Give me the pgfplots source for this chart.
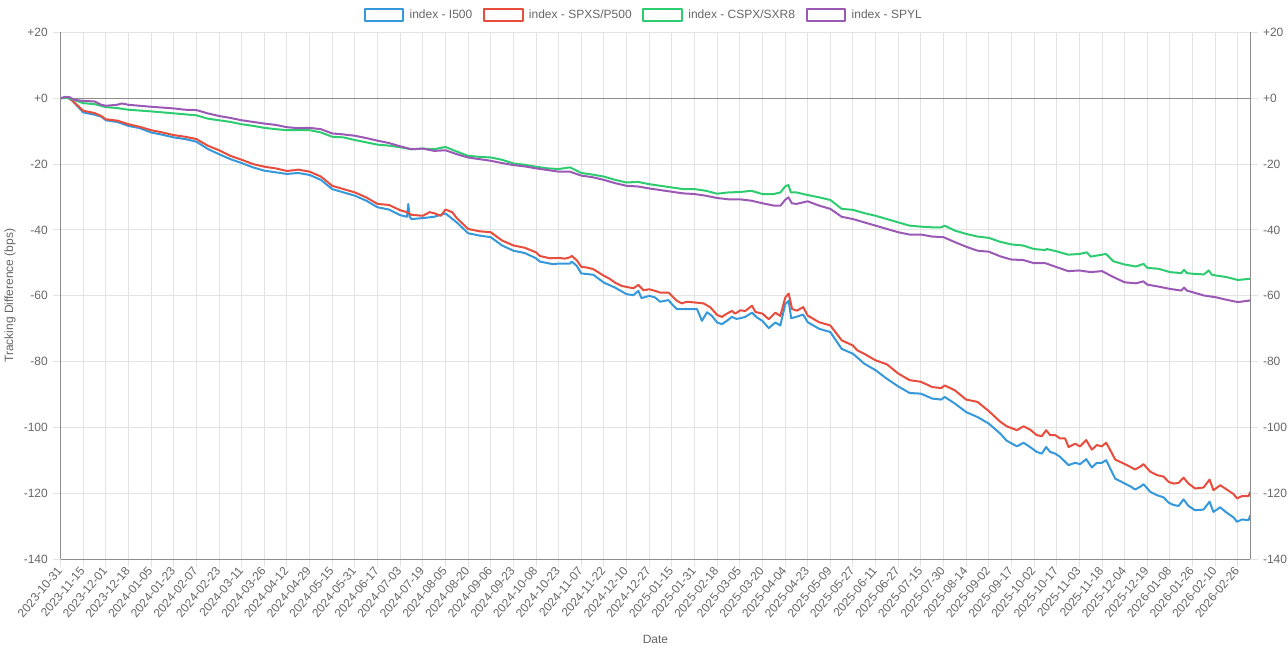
\documentclass[border=0pt]{standalone}
\usepackage{pgfplots}
\pgfplotsset{compat=1.18}
\usepackage{fontspec}
\setmainfont{Liberation Sans}
\definecolor{cBlue}{HTML}{3498DB}
\definecolor{cRed}{HTML}{E74C3C}
\definecolor{cGreen}{HTML}{2ECC71}
\definecolor{cPurple}{HTML}{9B59B6}
\definecolor{textgray}{HTML}{666666}
\definecolor{gridgray}{HTML}{E3E3E3}
\definecolor{axisgray}{HTML}{8C8C8C}
\begin{document}
\begin{tikzpicture}
\useasboundingbox (-45.4pt,-69.5pt) rectangle (920.6pt,419.5pt);
\pgfplotsset{
  common/.style={
    scale only axis, width=892.35pt, height=395.25pt,
    xmin=0, xmax=52.55, ymin=-140, ymax=20,
    ytick={-140,-120,-100,-80,-60,-40,-20,0,20},
    yticklabels={-140,-120,-100,-80,-60,-40,-20,+0,+20},
    tick align=outside, major tick length=6pt,
    major tick style={draw=gridgray, line width=0.75pt},
    axis line style={draw=axisgray, line width=0.75pt},
    tick label style={font=\fontsize{9}{11}\selectfont, text=textgray},
  }
}
\begin{axis}[common,
  axis x line*=bottom, axis y line*=left,
  xtick={0,...,52},
  xticklabels={2023-10-31,2023-11-15,2023-12-01,2023-12-18,2024-01-05,2024-01-23,2024-02-07,2024-02-23,2024-03-11,2024-03-26,2024-04-12,2024-04-29,2024-05-15,2024-05-31,2024-06-17,2024-07-03,2024-07-19,2024-08-05,2024-08-20,2024-09-06,2024-09-23,2024-10-08,2024-10-23,2024-11-07,2024-11-22,2024-12-10,2024-12-27,2025-01-15,2025-01-31,2025-02-18,2025-03-05,2025-03-20,2025-04-04,2025-04-23,2025-05-09,2025-05-27,2025-06-11,2025-06-27,2025-07-15,2025-07-30,2025-08-14,2025-09-02,2025-09-17,2025-10-02,2025-10-17,2025-11-03,2025-11-18,2025-12-04,2025-12-19,2026-01-08,2026-01-26,2026-02-10,2026-02-26},
  xticklabel style={rotate=50, anchor=east, inner sep=1pt},
  grid=major, grid style={draw=gridgray, line width=0.75pt},
  extra y ticks={0}, extra y tick labels={},
  extra y tick style={grid style={draw=axisgray, line width=0.75pt}, major tick style={draw=gridgray}},
  xlabel={Date}, ylabel={Tracking Difference (bps)},
  every axis x label/.style={at={(axis description cs:0.5,-0.152)}, anchor=center, font=\fontsize{9}{11}\selectfont, text=textgray},
  every axis y label/.style={at={(axis description cs:-0.0424,0.5)}, rotate=90, anchor=center, font=\fontsize{9}{11}\selectfont, text=textgray},
  legend style={at={(axis description cs:0.4904,1.033)}, anchor=center, draw=none, fill=none,
    legend columns=4, font=\fontsize{9}{11}\selectfont, text=textgray,
    /tikz/every odd column/.append style={column sep=2pt},
    /tikz/every even column/.append style={column sep=6pt}},
  legend image code/.code={\draw[#1, line width=1.5pt, fill=white] (0pt,-4.5pt) rectangle (29pt,4.5pt);},
  every axis plot/.append style={line width=1.5pt, line join=round, mark=none},
]
\addplot[cBlue] coordinates {(0,0) (0.3,0.2) (0.5,-0.6) (0.8,-2.8) (1,-4.3) (1.5,-5.0) (1.8,-5.6) (2,-6.7) (2.5,-7.2) (3,-8.4) (3.5,-9.1) (4,-10.4) (4.5,-11.1) (5,-11.9) (5.5,-12.4) (6,-13.2) (6.5,-15.4) (7,-17.0) (7.5,-18.5) (8,-19.7) (8.5,-21.0) (9,-22.0) (9.5,-22.5) (10,-23.0) (10.5,-22.7) (11,-23.3) (11.5,-24.8) (12,-27.6) (12.5,-28.6) (13,-29.6) (13.5,-31.1) (14,-33.1) (14.5,-33.8) (15,-35.5) (15.3,-36.0) (15.36,-32.1) (15.42,-36.0) (15.5,-36.7) (16,-36.4) (16.5,-36.0) (17,-35.0) (17.5,-37.7) (18,-41.0) (18.5,-41.7) (19,-42.2) (19.5,-44.7) (20,-46.3) (20.5,-47.0) (21,-48.6) (21.17,-49.6) (21.75,-50.4) (22,-50.2) (22.5,-50.2) (22.58,-49.6) (22.8,-50.9) (23,-53.2) (23.53,-53.6) (24,-56.0) (24.49,-57.5) (25,-59.5) (25.3,-59.8) (25.52,-58.5) (25.66,-60.7) (26,-60.0) (26.26,-60.5) (26.48,-61.8) (26.85,-61.3) (27,-62.5) (27.22,-64.0) (27.66,-64.0) (28.11,-64.0) (28.33,-67.6) (28.55,-65.0) (28.77,-66.1) (29,-68.1) (29.21,-68.6) (29.43,-67.6) (29.65,-66.4) (29.85,-67.0) (30.02,-66.8) (30.24,-66.4) (30.54,-65.1) (30.76,-66.6) (31,-67.6) (31.28,-69.8) (31.57,-68.1) (31.79,-69.0) (32.01,-62.5) (32.16,-61.5) (32.27,-66.8) (32.53,-66.3) (32.8,-65.7) (33,-68.0) (33.5,-70.0) (34,-71.0) (34.5,-76.1) (35,-77.6) (35.5,-80.6) (36,-82.6) (36.5,-85.2) (37,-87.5) (37.5,-89.5) (38,-89.7) (38.5,-91.2) (38.9,-91.5) (39.05,-90.7) (39.5,-92.7) (40,-95.3) (40.5,-96.8) (41,-98.8) (41.5,-101.8) (41.79,-104.0) (42.24,-105.7) (42.53,-104.6) (42.82,-105.9) (43.12,-107.4) (43.34,-107.9) (43.53,-105.9) (43.71,-107.4) (43.93,-107.9) (44.15,-108.9) (44.52,-111.4) (44.81,-110.7) (45.03,-111.1) (45.3,-109.6) (45.55,-112.1) (45.77,-110.7) (45.99,-110.7) (46.18,-109.9) (46.36,-112.4) (46.58,-115.5) (46.95,-116.8) (47.24,-117.8) (47.46,-118.8) (47.68,-118.0) (47.83,-117.2) (48.13,-119.5) (48.42,-120.5) (48.72,-121.2) (48.94,-122.8) (49.16,-123.5) (49.38,-123.8) (49.6,-121.8) (49.82,-123.8) (50.11,-125.1) (50.48,-124.9) (50.75,-122.5) (50.92,-125.6) (51.22,-124.2) (51.44,-125.5) (51.81,-127.3) (51.96,-128.6) (52.18,-127.9) (52.47,-128.1) (52.55,-126.6)};
\addlegendentry{index - I500}
\addplot[cRed] coordinates {(0,0) (0.3,0.2) (0.5,-0.6) (0.8,-2.5) (1,-3.8) (1.5,-4.5) (1.8,-5.4) (2,-6.4) (2.5,-6.8) (3,-7.9) (3.5,-8.7) (4,-9.7) (4.5,-10.4) (5,-11.2) (5.5,-11.7) (6,-12.4) (6.5,-14.4) (7,-15.8) (7.5,-17.5) (8,-18.7) (8.5,-20.0) (9,-20.8) (9.5,-21.3) (10,-22.1) (10.5,-21.7) (11,-22.3) (11.5,-23.8) (12,-26.6) (12.5,-27.6) (13,-28.6) (13.5,-30.1) (14,-32.1) (14.5,-32.4) (15,-34.0) (15.3,-34.6) (15.5,-35.4) (16,-35.7) (16.3,-34.6) (16.5,-34.9) (16.8,-35.7) (17,-33.8) (17.3,-34.6) (17.5,-36.4) (18,-39.7) (18.5,-40.4) (19,-40.7) (19.5,-43.2) (20,-44.7) (20.5,-45.4) (21,-46.8) (21.17,-47.9) (21.62,-48.6) (22,-48.5) (22.28,-48.7) (22.5,-48.3) (22.58,-47.9) (22.8,-49.2) (23,-51.2) (23.24,-51.4) (23.53,-51.9) (23.83,-53.2) (24,-53.9) (24.27,-54.9) (24.49,-56.0) (24.79,-57.0) (25,-57.3) (25.3,-57.7) (25.52,-56.7) (25.75,-58.3) (26,-58.0) (26.26,-58.5) (26.48,-59.0) (26.85,-59.0) (27,-60.0) (27.22,-61.5) (27.44,-62.3) (27.66,-61.8) (28,-62.0) (28.4,-62.3) (28.7,-63.5) (29,-65.8) (29.21,-66.4) (29.43,-65.4) (29.65,-64.6) (29.8,-65.4) (30.02,-64.4) (30.24,-64.6) (30.54,-63.0) (30.69,-64.9) (31,-65.4) (31.28,-67.1) (31.57,-65.1) (31.79,-66.1) (32.01,-60.5) (32.16,-59.3) (32.31,-64.0) (32.53,-64.5) (32.8,-63.4) (33,-66.0) (33.5,-68.0) (34,-69.0) (34.5,-73.5) (35,-75.1) (35.2,-76.6) (35.5,-77.6) (36,-79.6) (36.5,-80.8) (37,-83.6) (37.5,-85.6) (38,-86.1) (38.5,-87.7) (38.9,-88.0) (39.05,-87.2) (39.5,-88.7) (40,-91.5) (40.5,-92.2) (41,-95.0) (41.5,-98.2) (41.79,-99.6) (42.24,-100.8) (42.53,-99.6) (42.82,-100.6) (43.12,-102.3) (43.34,-102.6) (43.53,-100.8) (43.71,-102.3) (43.93,-102.3) (44.15,-103.3) (44.37,-103.3) (44.52,-105.9) (44.81,-104.9) (45.03,-105.7) (45.3,-103.8) (45.55,-106.7) (45.77,-105.3) (45.99,-105.7) (46.18,-104.6) (46.36,-106.8) (46.58,-109.7) (46.95,-110.9) (47.24,-111.9) (47.46,-112.7) (47.68,-111.9) (47.83,-111.1) (48.13,-113.4) (48.42,-114.4) (48.72,-114.9) (48.94,-116.5) (49.16,-117.0) (49.38,-116.8) (49.6,-115.2) (49.82,-117.0) (50.11,-118.5) (50.48,-118.2) (50.75,-115.8) (50.92,-119.0) (51.22,-117.5) (51.44,-118.5) (51.81,-120.2) (51.96,-121.5) (52.18,-120.8) (52.47,-120.8) (52.55,-119.5)};
\addlegendentry{index - SPXS/P500}
\addplot[cGreen] coordinates {(0,0) (0.3,0.1) (0.5,-0.3) (1,-1.5) (1.5,-1.8) (2,-2.7) (2.5,-3.0) (3,-3.5) (4,-4.0) (5,-4.6) (6,-5.2) (6.5,-6.2) (7,-6.7) (7.5,-7.2) (8,-7.9) (8.5,-8.4) (9,-9.0) (9.5,-9.4) (10,-9.7) (10.5,-9.7) (11,-9.7) (11.5,-10.4) (12,-11.7) (12.5,-11.9) (13,-12.7) (13.5,-13.4) (14,-14.1) (14.5,-14.4) (15,-14.9) (15.5,-15.5) (16,-15.3) (16.5,-15.5) (17,-14.8) (17.5,-16.2) (18,-17.5) (18.5,-17.8) (19,-18.0) (19.5,-18.7) (20,-19.8) (20.5,-20.2) (21,-20.8) (21.5,-21.3) (22,-21.5) (22.5,-21.0) (23,-22.7) (23.5,-23.2) (24,-23.8) (24.5,-24.8) (25,-25.6) (25.5,-25.4) (26,-26.1) (26.5,-26.6) (27,-27.1) (27.5,-27.6) (28,-27.6) (28.5,-28.1) (29,-29.0) (29.5,-28.6) (30,-28.5) (30.5,-28.1) (31,-29.1) (31.5,-29.1) (31.8,-28.6) (32.0,-26.8) (32.15,-26.3) (32.25,-28.6) (32.5,-28.6) (33,-29.4) (33.5,-30.1) (34,-30.9) (34.5,-33.6) (35,-33.9) (35.5,-34.9) (36,-35.7) (36.5,-36.7) (37,-37.7) (37.5,-38.7) (38,-39.0) (38.5,-39.2) (38.9,-39.2) (39.05,-38.7) (39.5,-40.2) (40,-41.2) (40.5,-42.0) (41,-42.4) (41.5,-43.6) (42,-44.4) (42.5,-44.7) (43,-45.8) (43.5,-46.1) (43.56,-45.8) (44,-46.5) (44.5,-47.5) (45,-47.3) (45.33,-46.8) (45.5,-48.1) (46,-47.5) (46.18,-47.3) (46.5,-49.5) (47,-50.5) (47.5,-51.1) (47.83,-50.3) (48,-51.5) (48.5,-51.8) (49,-52.8) (49.5,-53.1) (49.62,-52.1) (49.75,-53.1) (50,-53.3) (50.5,-53.5) (50.71,-52.3) (50.85,-53.6) (51,-53.8) (51.5,-54.3) (52,-55.2) (52.55,-54.8)};
\addlegendentry{index - CSPX/SXR8}
\addplot[cPurple] coordinates {(0,0) (0.2,0.4) (0.4,0.3) (0.6,-0.5) (1,-0.8) (1.5,-1.0) (1.8,-2.0) (2,-2.3) (2.5,-2.0) (2.7,-1.6) (3,-2.0) (3.5,-2.3) (4,-2.6) (5,-3.1) (5.5,-3.5) (6,-3.6) (6.5,-4.6) (7,-5.4) (7.5,-6.0) (8,-6.7) (8.5,-7.2) (9,-7.7) (9.5,-8.1) (10,-8.8) (10.5,-9.1) (11,-9.0) (11.5,-9.4) (12,-10.7) (12.5,-11.0) (13,-11.4) (13.5,-12.1) (14,-12.9) (14.5,-13.6) (15,-14.6) (15.5,-15.5) (16,-15.3) (16.5,-16.0) (17,-15.8) (17.5,-17.0) (18,-18.0) (18.5,-18.5) (19,-19.0) (19.5,-19.7) (20,-20.3) (20.5,-20.7) (21,-21.3) (21.5,-21.8) (22,-22.3) (22.5,-22.3) (23,-23.5) (23.5,-24.0) (24,-24.8) (24.5,-25.8) (25,-26.6) (25.5,-26.8) (26,-27.4) (26.5,-27.9) (27,-28.4) (27.5,-28.9) (28,-29.1) (28.5,-29.6) (29,-30.3) (29.5,-30.7) (30,-30.7) (30.5,-31.1) (31,-31.9) (31.5,-32.6) (31.8,-32.6) (32.0,-30.9) (32.15,-30.1) (32.3,-31.9) (32.5,-32.1) (33,-31.3) (33.5,-32.6) (34,-33.6) (34.5,-36.0) (35,-36.7) (35.5,-37.7) (36,-38.7) (36.5,-39.7) (37,-40.7) (37.5,-41.4) (38,-41.4) (38.5,-42.0) (39,-42.2) (39.5,-43.7) (40,-45.1) (40.5,-46.3) (41,-46.6) (41.5,-48.0) (42,-49.0) (42.5,-49.1) (43,-50.1) (43.5,-50.1) (44,-51.3) (44.5,-52.5) (45,-52.3) (45.5,-52.8) (46,-52.5) (46.5,-54.3) (47,-55.9) (47.5,-56.2) (47.83,-55.6) (48,-56.6) (48.5,-57.2) (49,-57.9) (49.5,-58.4) (49.62,-57.5) (49.75,-58.4) (50,-58.9) (50.5,-59.9) (51,-60.4) (51.5,-61.2) (52,-61.9) (52.55,-61.4)};
\addlegendentry{index - SPYL}
\end{axis}
\begin{axis}[common,
  axis x line=none, axis y line*=right,
]
\addplot[draw=none, forget plot] coordinates {(0,0)};
\end{axis}
\end{tikzpicture}
\end{document}
